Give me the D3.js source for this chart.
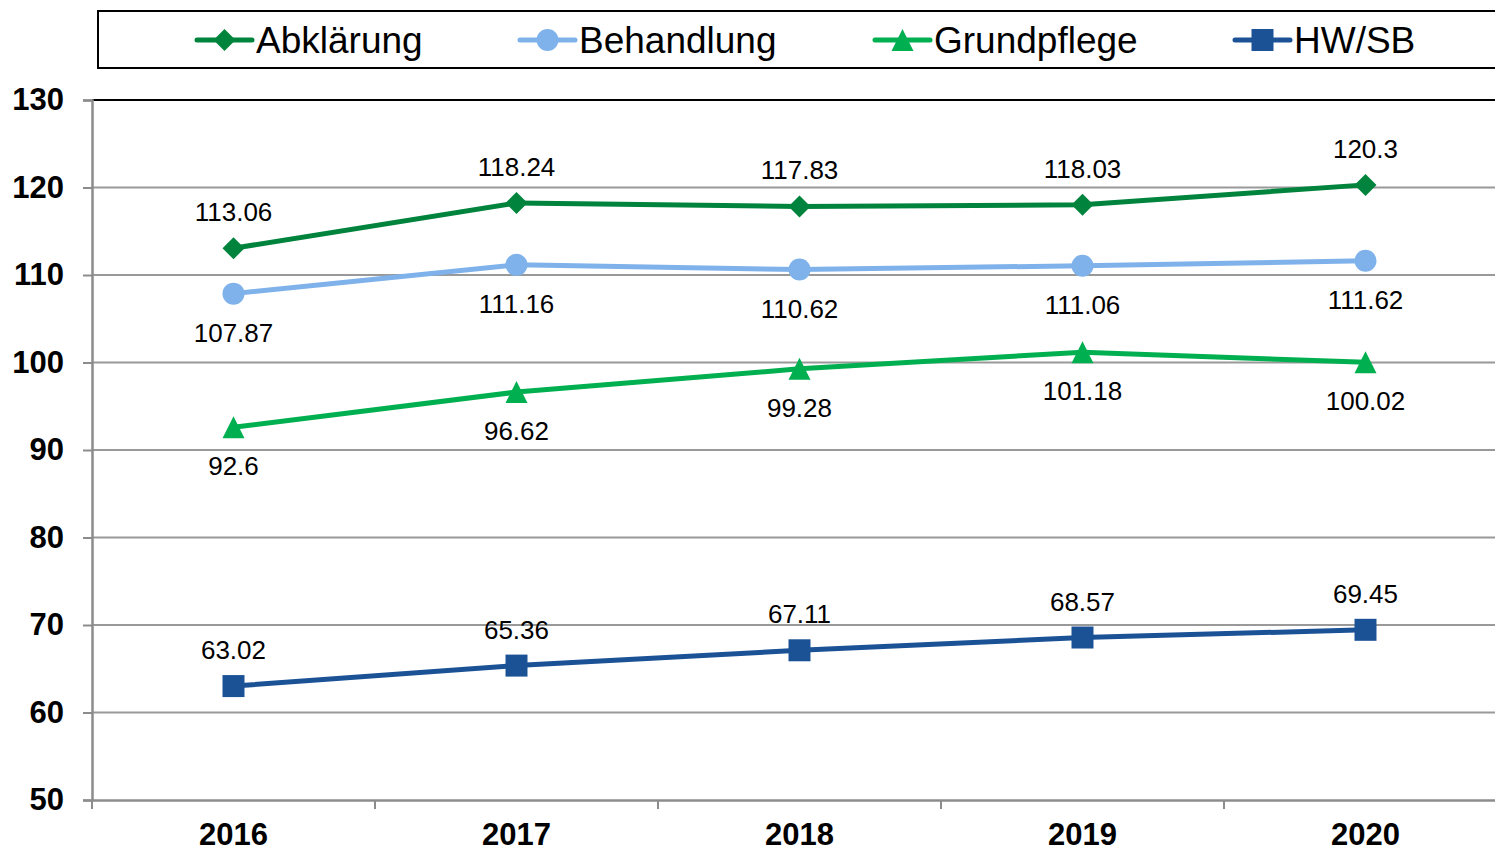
<!DOCTYPE html>
<html>
<head>
<meta charset="utf-8">
<script src="https://cdn.jsdelivr.net/npm/d3@7.9.0/dist/d3.min.js"></script>
<style>
  body { margin: 0; background: #fff; overflow: hidden; }
  svg { display: block; font-family: Arial, "Liberation Sans", sans-serif; }
</style>
</head>
<body>
<svg id="chart" width="1495" height="852"></svg>
<script>
const years = ['2016', '2017', '2018', '2019', '2020'];
const abklaerung = [113.06, 118.24, 117.83, 118.03, 120.3];
const behandlung = [107.87, 111.16, 110.62, 111.06, 111.62];
const grundpflege = [92.6, 96.62, 99.28, 101.18, 100.02];
const hwsb = [63.02, 65.36, 67.11, 68.57, 69.45];
const yTicks = [50, 60, 70, 80, 90, 100, 110, 120, 130];

// Excel-like markers, size = (box width)^2
const diamond = {
  draw(ctx, size) {
    const r = Math.sqrt(size) / 2;
    ctx.moveTo(0, -r); ctx.lineTo(r, 0); ctx.lineTo(0, r); ctx.lineTo(-r, 0); ctx.closePath();
  }
};
const triangle = {
  draw(ctx, size) {
    const r = Math.sqrt(size) / 2;
    ctx.moveTo(0, -r); ctx.lineTo(r, r); ctx.lineTo(-r, r); ctx.closePath();
  }
};

const series = [
  { name: 'Abklärung', values: abklaerung, color: '#00843d', symbol: diamond, size: 22 * 22, labelPos: 'above', legendX: 197 },
  { name: 'Behandlung', values: behandlung, color: '#7fb2ea', symbol: d3.symbolCircle, size: Math.PI * 11 * 11, labelPos: 'below', legendX: 520 },
  { name: 'Grundpflege', values: grundpflege, color: '#00b050', symbol: triangle, size: 22 * 22, labelPos: 'below', legendX: 875 },
  { name: 'HW/SB', values: hwsb, color: '#1b5296', symbol: d3.symbolSquare, size: 22 * 22, labelPos: 'above', legendX: 1235 }
];

const margin = { top: 100, left: 92, bottom: 800 };
const plotRight = 92 + 5 * 283;

const svg = d3.select('#chart');

const x = d3.scaleBand().domain(years).range([margin.left, plotRight]);
const y = d3.scaleLinear().domain([50, 130]).range([margin.bottom, margin.top]);

// gridlines
svg.append('g')
  .selectAll('line')
  .data(yTicks.slice(1, -1))
  .join('line')
  .attr('x1', margin.left).attr('x2', plotRight)
  .attr('y1', d => y(d)).attr('y2', d => y(d))
  .attr('stroke', '#999').attr('stroke-width', 2);

// top border
svg.append('line')
  .attr('x1', margin.left).attr('x2', plotRight)
  .attr('y1', y(130)).attr('y2', y(130))
  .attr('stroke', '#000').attr('stroke-width', 2);

// y axis
const yAxis = svg.append('g')
  .attr('transform', `translate(${margin.left},0)`)
  .call(d3.axisLeft(y).tickValues(yTicks).tickSize(9).tickPadding(19));
yAxis.select('.domain').attr('stroke', '#8c8c8c').attr('stroke-width', 2.5);
yAxis.selectAll('.tick line').attr('stroke', '#8c8c8c').attr('stroke-width', 2);
yAxis.selectAll('.tick text')
  .attr('font-size', 31).attr('font-weight', 'bold').attr('fill', '#000')
  .attr('font-family', 'Arial, "Liberation Sans", sans-serif');

// x axis
const xAxis = svg.append('g')
  .attr('transform', `translate(0,${margin.bottom})`)
  .call(d3.axisBottom(x).tickSize(0).tickPadding(23));
xAxis.select('.domain').attr('stroke', '#8c8c8c').attr('stroke-width', 2.5);
xAxis.selectAll('.tick text')
  .attr('font-size', 31).attr('font-weight', 'bold').attr('fill', '#000')
  .attr('font-family', 'Arial, "Liberation Sans", sans-serif');
xAxis.selectAll('line.sep')
  .data(d3.range(years.length + 1))
  .join('line')
  .attr('class', 'sep')
  .attr('x1', i => margin.left + i * x.step()).attr('x2', i => margin.left + i * x.step())
  .attr('y1', 0).attr('y2', 9)
  .attr('stroke', '#8c8c8c').attr('stroke-width', 2);

const line = d3.line()
  .x((d, i) => x(years[i]) + x.bandwidth() / 2)
  .y(d => y(d));

series.forEach(s => {
  const g = svg.append('g');
  g.append('path')
    .datum(s.values)
    .attr('d', line)
    .attr('fill', 'none')
    .attr('stroke', s.color)
    .attr('stroke-width', 5)
    .attr('stroke-linejoin', 'round');

  g.selectAll('path.mark')
    .data(s.values)
    .join('path')
    .attr('class', 'mark')
    .attr('transform', (d, i) => `translate(${x(years[i]) + x.bandwidth() / 2},${y(d)})`)
    .attr('d', d3.symbol(s.symbol, s.size))
    .attr('fill', s.color);

  g.selectAll('text')
    .data(s.values)
    .join('text')
    .attr('x', (d, i) => x(years[i]) + x.bandwidth() / 2)
    .attr('y', d => s.labelPos === 'above' ? y(d) - 27 : y(d) + 48)
    .attr('text-anchor', 'middle')
    .attr('font-size', 26)
    .attr('fill', '#000')
    .text(d => d);
});

// legend
const legend = svg.append('g');
legend.append('rect')
  .attr('x', 98).attr('y', 11)
  .attr('width', 1420).attr('height', 57)
  .attr('fill', '#fff').attr('stroke', '#000').attr('stroke-width', 2);

series.forEach(s => {
  const lg = legend.append('g');
  lg.append('line')
    .attr('x1', s.legendX).attr('x2', s.legendX + 55)
    .attr('y1', 40).attr('y2', 40)
    .attr('stroke', s.color).attr('stroke-width', 5)
    .attr('stroke-linecap', 'round');
  lg.append('path')
    .attr('transform', `translate(${s.legendX + 27.5},40)`)
    .attr('d', d3.symbol(s.symbol, s.size))
    .attr('fill', s.color);
  lg.append('text')
    .attr('x', s.legendX + 59).attr('y', 53)
    .attr('font-size', 37)
    .attr('fill', '#000')
    .text(s.name);
});
</script>
</body>
</html>
